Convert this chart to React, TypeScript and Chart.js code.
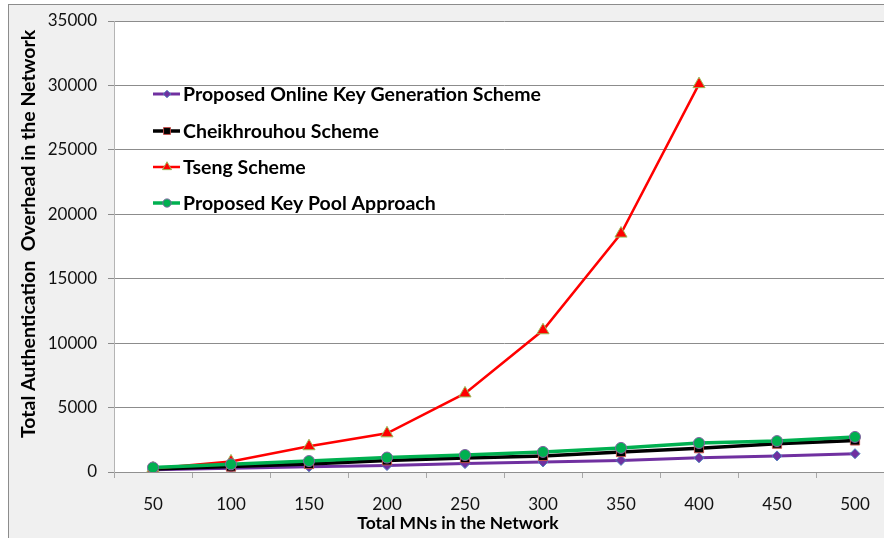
import React, { useEffect, useRef } from 'react';
import { Chart, registerables } from 'chart.js';

Chart.register(...registerables);

const categories = ['50', '100', '150', '200', '250', '300', '350', '400', '450', '500'];
const onlineKeyGen = [180, 290, 400, 500, 650, 780, 900, 1100, 1250, 1420];
const cheikhrouhou = [240, 420, 620, 900, 1080, 1250, 1550, 1850, 2200, 2450];
const tseng = [280, 820, 2000, 3000, 6100, 11000, 18500, 30100, null, null];
const keyPool = [350, 600, 850, 1120, 1320, 1560, 1870, 2250, 2400, 2720];
const seriesNames = [
  'Proposed Online Key Generation Scheme',
  'Cheikhrouhou Scheme',
  'Tseng Scheme',
  'Proposed Key Pool Approach',
];
const yMin = 0;
const yMax = 35000;
const yStep = 5000;
const yTitle = 'Total Authentication  Overhead in the Network';
const xTitle = 'Total MNs in the Network';

const CW = 900;
const CH = 545;

function drawMarker(ctx: CanvasRenderingContext2D, style: string, x: number, y: number, r: number) {
  ctx.beginPath();
  if (style === 'rectRot') {
    ctx.moveTo(x, y - r);
    ctx.lineTo(x + r, y);
    ctx.lineTo(x, y + r);
    ctx.lineTo(x - r, y);
    ctx.closePath();
  } else if (style === 'rect') {
    const s = Math.SQRT1_2 * r;
    ctx.rect(x - s, y - s, 2 * s, 2 * s);
  } else if (style === 'triangle') {
    ctx.moveTo(x, y - r);
    ctx.lineTo(x + r * 0.866, y + r * 0.5);
    ctx.lineTo(x - r * 0.866, y + r * 0.5);
    ctx.closePath();
  } else {
    ctx.arc(x, y, r, 0, Math.PI * 2);
  }
  ctx.fill();
  ctx.stroke();
}

const decor = {
  id: 'decor',
  beforeDraw(chart: any) {
    const { ctx, chartArea } = chart;
    const { left, top, right, bottom } = chartArea;
    ctx.save();
    ctx.fillStyle = '#f0f0f0';
    ctx.fillRect(0, 0, chart.width, chart.height);
    ctx.fillStyle = '#ffffff';
    ctx.fillRect(left, top, right - left, bottom - top);
    ctx.restore();
  },
  afterDraw(chart: any) {
    const { ctx } = chart;
    ctx.save();
    ctx.fillStyle = '#000';
    ctx.textAlign = 'center';
    ctx.textBaseline = 'middle';
    ctx.font = 'bold 17.5px Lato';
    ctx.fillText(xTitle, 449, 518);
    ctx.font = 'bold 19.5px Lato';
    ctx.translate(20, 229);
    ctx.rotate(-Math.PI / 2);
    ctx.fillText(yTitle, 0, 0);
    ctx.restore();

    // legend
    const rows = [89, 126, 162, 198];
    ctx.save();
    chart.data.datasets.forEach((ds: any, i: number) => {
      const y = rows[i];
      ctx.strokeStyle = ds.borderColor;
      ctx.lineWidth = ds.borderWidth;
      ctx.beginPath();
      ctx.moveTo(144, y);
      ctx.lineTo(171, y);
      ctx.stroke();
      ctx.fillStyle = ds.pointBackgroundColor;
      ctx.strokeStyle = ds.pointBorderColor;
      ctx.lineWidth = 1;
      drawMarker(ctx, ds.pointStyle, 158, y, ds.pointRadius * 0.75);
      ctx.fillStyle = '#000';
      ctx.font = 'bold 19.5px Lato';
      ctx.textAlign = 'left';
      ctx.textBaseline = 'middle';
      ctx.fillText(ds.label, 174, y + 1);
    });
    ctx.restore();
  },
};

export default function App() {
  const ref = useRef<HTMLCanvasElement>(null);
  useEffect(() => {
    if (!ref.current) return;
    const chart = new Chart(ref.current, {
      type: 'line',
      data: {
        labels: categories,
        datasets: [
          {
            label: seriesNames[0],
            data: onlineKeyGen,
            borderColor: '#7030a0',
            borderWidth: 3,
            pointStyle: 'rectRot',
            pointRadius: 5,
            pointBackgroundColor: '#7030a0',
            pointBorderColor: '#4f81bd',
            pointBorderWidth: 1,
            order: 4,
          },
          {
            label: seriesNames[1],
            data: cheikhrouhou,
            borderColor: '#000000',
            borderWidth: 3.5,
            pointStyle: 'rect',
            pointRadius: 6.5,
            pointBackgroundColor: '#000000',
            pointBorderColor: '#c0504d',
            pointBorderWidth: 1,
            order: 3,
          },
          {
            label: seriesNames[2],
            data: tseng,
            borderColor: '#ff0000',
            borderWidth: 2.5,
            pointStyle: 'triangle',
            pointRadius: 7,
            pointBackgroundColor: '#ff0000',
            pointBorderColor: '#9bbb59',
            pointBorderWidth: 1,
            order: 2,
          },
          {
            label: seriesNames[3],
            data: keyPool,
            borderColor: '#00b050',
            borderWidth: 3.5,
            pointStyle: 'circle',
            pointRadius: 5.5,
            pointBackgroundColor: '#00b050',
            pointBorderColor: '#8064a2',
            pointBorderWidth: 1,
            order: 1,
          },
        ],
      },
      options: {
        responsive: false,
        animation: false,
        devicePixelRatio: 1,
        layout: { padding: { left: 0, top: 16, right: 15, bottom: 0 } },
        plugins: {
          legend: { display: false },
          tooltip: { enabled: false },
        },
        elements: { line: { tension: 0 } },
        scales: {
          x: {
            type: 'category',
            offset: true,
            grid: {
              display: true,
              drawOnChartArea: false,
              drawTicks: true,
              tickLength: 6,
              offset: true,
              color: '#a8a8a8',
            },
            border: { display: true, color: '#909090', width: 1 },
            ticks: {
              color: '#111',
              font: { family: 'Lato', size: 17 },
              padding: 16,
              maxRotation: 0,
              autoSkip: false,
            },
            afterFit: (s: any) => {
              s.height = CH - 467;
              s.paddingLeft = 0;
              s.paddingRight = 0;
            },
          },
          y: {
            min: yMin,
            max: yMax,
            grid: {
              color: '#8c8c8c',
              tickLength: 6,
              drawTicks: true,
            },
            border: { display: true, color: '#b4b4b4', width: 1 },
            ticks: {
              stepSize: yStep,
              color: '#111',
              font: { family: 'Lato', size: 17 },
              padding: 11,
              callback: (v: any) => String(v),
            },
            afterFit: (s: any) => {
              s.width = 105;
              s.paddingTop = 0;
              s.paddingBottom = 0;
            },
          },
        },
      },
      plugins: [decor],
    } as any);
    return () => chart.destroy();
  }, []);
  return (
    <div
      style={{
        position: 'fixed',
        left: 8,
        top: 4,
        width: CW,
        height: CH,
        border: '1px solid #8c8c8c',
        background: '#f0f0f0',
      }}
    >
      <canvas ref={ref} width={CW} height={CH} style={{ display: 'block', width: CW, height: CH }} />
    </div>
  );
}
